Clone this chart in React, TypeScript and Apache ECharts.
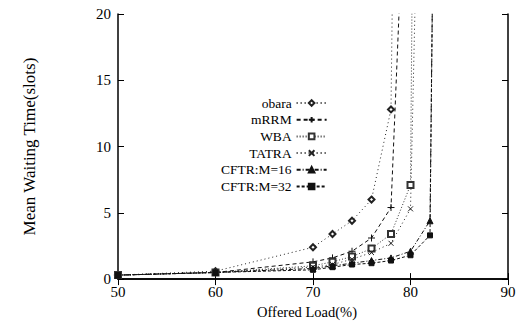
import React, { useEffect, useRef } from "react";
import * as echarts from "echarts";

const seriesNames = ["obara", "mRRM", "WBA", "TATRA", "CFTR:M=16", "CFTR:M=32"];

const obaraLoad = [50, 60, 70, 72, 74, 76, 78, 78.2];
const obaraWait = [0.3, 0.6, 2.4, 3.4, 4.4, 6.0, 12.8, 25];

const mrrmLoad = [50, 60, 70, 72, 74, 76, 78, 79.1];
const mrrmWait = [0.3, 0.5, 1.3, 1.6, 2.1, 3.1, 5.4, 25];

const wbaLoad = [50, 60, 70, 72, 74, 76, 78, 80, 80.2];
const wbaWait = [0.3, 0.5, 1.0, 1.3, 1.7, 2.3, 3.4, 7.1, 25];

const tatraLoad = [50, 60, 70, 72, 74, 76, 78, 80, 80.6];
const tatraWait = [0.3, 0.5, 0.9, 1.1, 1.5, 2.0, 2.7, 5.3, 25];

const cftr16Load = [50, 60, 70, 72, 74, 76, 78, 80, 82, 82.3];
const cftr16Wait = [0.3, 0.5, 0.8, 1.0, 1.2, 1.4, 1.6, 2.1, 4.4, 25];

const cftr32Load = [50, 60, 70, 72, 74, 76, 78, 80, 82, 82.3];
const cftr32Wait = [0.3, 0.5, 0.7, 0.9, 1.1, 1.2, 1.4, 1.8, 3.3, 25];

const xMin = 50, xMax = 90, xStep = 10;
const yMin = 0, yMax = 20, yStep = 5;

const FONT = "Liberation Serif";

function pairs(xs: number[], ys: number[]) {
  return xs.map((x, i) => {
    const v = ys[i];
    if (v > yMax) return { value: [x, v], symbol: "none" };
    return { value: [x, v] };
  });
}

const styles = [
  { symbol: "emptyDiamond", symbolSize: 6, type: [1, 3], color: "#222" },
  { symbol: "path://M0,5L10,5M5,0L5,10", symbolSize: 7, type: [4, 3], color: "#111" },
  { symbol: "emptyRect", symbolSize: 6, type: [1, 2], color: "#333" },
  { symbol: "path://M0,0L10,10M10,0L0,10", symbolSize: 5, type: [1, 3], color: "#222" },
  { symbol: "triangle", symbolSize: 6, type: [4, 2, 1, 2], color: "#111" },
  { symbol: "rect", symbolSize: 5, type: [3, 2], color: "#111" },
];

const dataSets = [
  pairs(obaraLoad, obaraWait),
  pairs(mrrmLoad, mrrmWait),
  pairs(wbaLoad, wbaWait),
  pairs(tatraLoad, tatraWait),
  pairs(cftr16Load, cftr16Wait),
  pairs(cftr32Load, cftr32Wait),
];

export default function App() {
  const ref = useRef<HTMLDivElement>(null);
  useEffect(() => {
    const chart = echarts.init(ref.current!, null, { renderer: "svg" });
    const axisLine = { show: true, lineStyle: { color: "#000", width: 1.5 } };
    const option: any = {
      animation: false,
      backgroundColor: "#fff",
      grid: { left: 118, right: 13, top: 14, bottom: 35 },
      legend: {
        orient: "vertical",
        left: 216,
        top: 91,
        align: "right",
        itemWidth: 30,
        itemHeight: 7,
        itemGap: 2.7,
        data: seriesNames,
        textStyle: { fontFamily: FONT, fontSize: 13.5, lineHeight: 14, color: "#000", width: 64, align: "right" },
      },
      xAxis: [
        {
          type: "value",
          min: xMin,
          max: xMax,
          interval: xStep,
          position: "bottom",
          axisLine,
          axisTick: { inside: true, length: 6, lineStyle: { color: "#000" } },
          splitLine: { show: false },
          axisLabel: { fontFamily: FONT, fontSize: 15, color: "#000", margin: 5 },
          name: "Offered Load(%)",
          nameLocation: "middle",
          nameGap: 19,
          nameTextStyle: { fontFamily: FONT, fontSize: 14.5, color: "#000", padding: [0, 12, 0, 0] },
        },
        {
          type: "value",
          min: xMin,
          max: xMax,
          interval: xStep,
          position: "top",
          axisLine,
          axisTick: { inside: true, length: 6, lineStyle: { color: "#000" } },
          axisLabel: { show: false },
          splitLine: { show: false },
        },
      ],
      yAxis: [
        {
          type: "value",
          min: yMin,
          max: yMax,
          interval: yStep,
          position: "left",
          axisLine,
          axisTick: { inside: true, length: 6, lineStyle: { color: "#000" } },
          splitLine: { show: false },
          axisLabel: { fontFamily: FONT, fontSize: 15, color: "#000", margin: 7 },
          name: "Mean Waiting Time(slots)",
          nameLocation: "middle",
          nameGap: 80,
          nameRotate: 90,
          nameTextStyle: { fontFamily: FONT, fontSize: 17, color: "#000" },
        },
        {
          type: "value",
          min: yMin,
          max: yMax,
          interval: yStep,
          position: "right",
          axisLine,
          axisTick: { inside: true, length: 6, lineStyle: { color: "#000" } },
          axisLabel: { show: false },
          splitLine: { show: false },
        },
      ],
      series: seriesNames.map((name, i) => ({
        name,
        type: "line",
        data: dataSets[i],
        symbol: styles[i].symbol,
        symbolSize: styles[i].symbolSize,
        showAllSymbol: true,
        lineStyle: { color: styles[i].color, width: 1, type: styles[i].type },
        itemStyle: { color: styles[i].color, borderColor: styles[i].color, borderWidth: 1 },
        clip: true,
      })),
    };
    chart.setOption(option);
    return () => chart.dispose();
  }, []);
  return <div ref={ref} style={{ position: "fixed", left: 0, top: 0, width: 521, height: 324 }} />;
}
